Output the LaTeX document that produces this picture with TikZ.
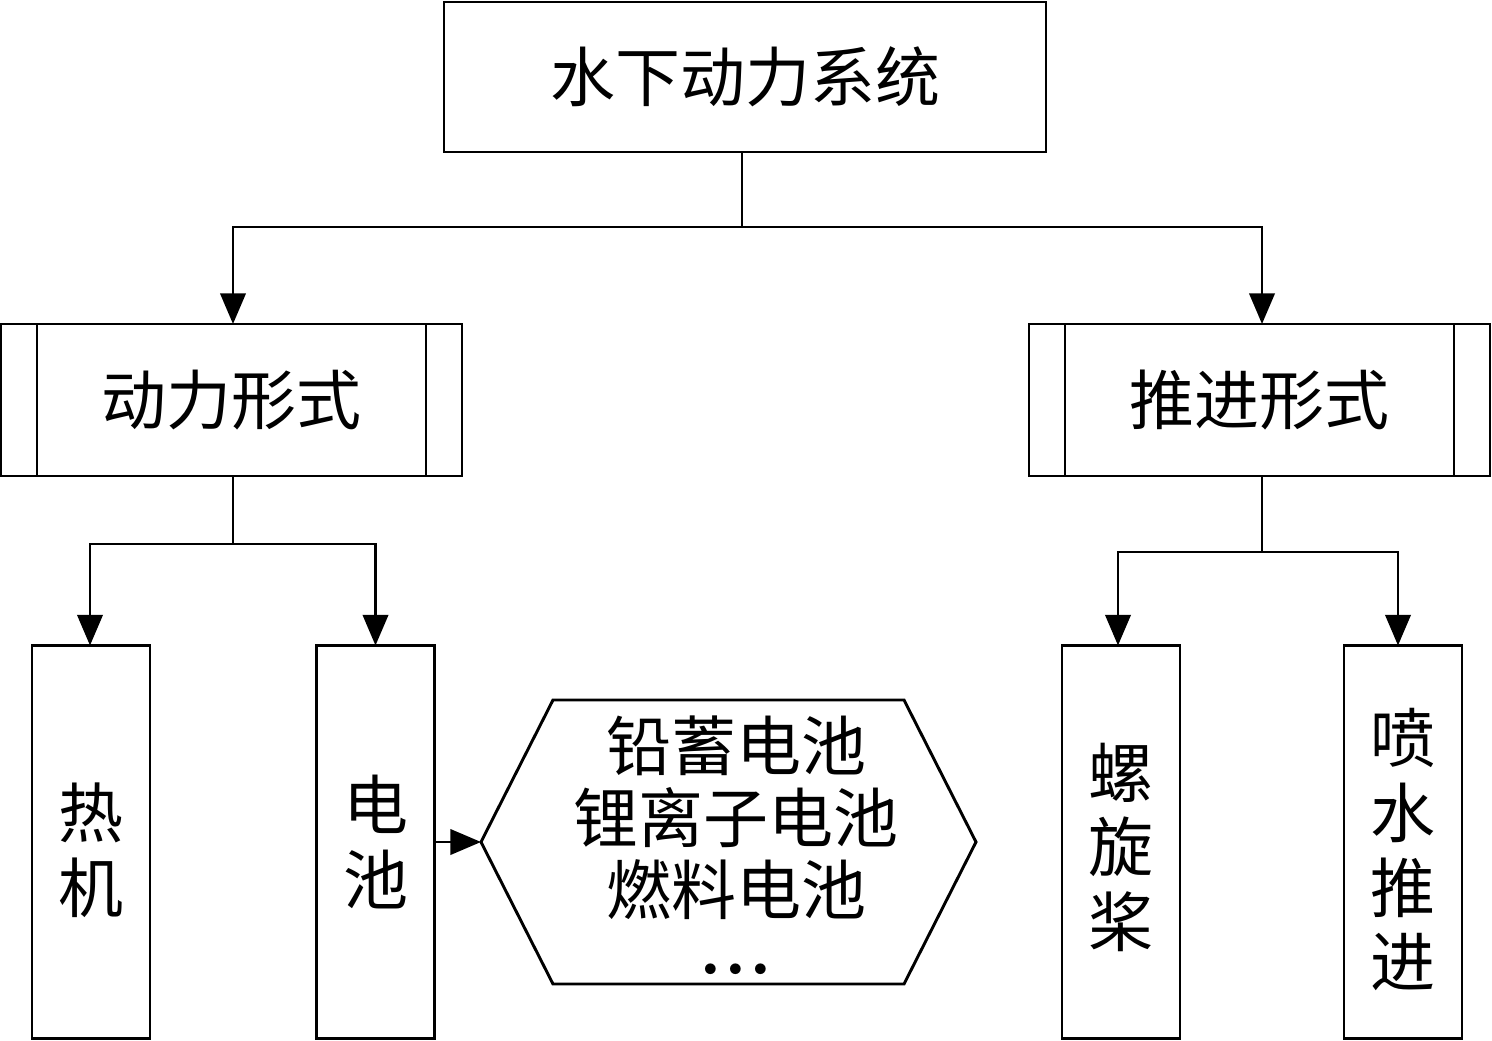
\documentclass[tikz,border=0pt]{standalone}
\usepackage{fontspec}
\setmainfont{Noto Sans CJK SC}
\usetikzlibrary{arrows.meta,calc}
\newcommand{\lowtext}[2]{\raisebox{-#1}[\height][\depth]{\parbox{1em}{\centering #2}}}
\newcommand{\hexdot}{\makebox[18.75pt]{•}}
\begin{document}
\begin{tikzpicture}[x=0.75pt,y=-0.75pt,
  every node/.style={inner sep=0pt,outer sep=0pt},
  lw/.style={line width=2.2pt},
  box/.style={draw,lw,font=\fontsize{48.75pt}{56pt}\selectfont,align=center},
  arr/.style={lw,-{Triangle[length=23pt,width=19pt]}},
  ln/.style={lw}
]
\useasboundingbox (0,0) rectangle (1492,1041);
% top
\node[box,minimum width=451.5pt,minimum height=112.5pt] (top) at (745,77) {水下动力系统};
% second level
\node[box,minimum width=345.75pt,minimum height=114pt] (pw) at (231.5,400) {动力形式};
\node[box,minimum width=345.75pt,minimum height=114pt] (pr) at (1259.5,400) {推进形式};
\foreach \n in {pw,pr}{
  \draw[ln] ([xshift=27pt]\n.north west) -- ([xshift=27pt]\n.south west);
  \draw[ln] ([xshift=-27pt]\n.north east) -- ([xshift=-27pt]\n.south east);
}
% third level
\node[box,minimum width=88.5pt,minimum height=294.75pt] (rj) at (91,842) {\lowtext{6pt}{热\\机}};
\node[box,minimum width=88.5pt,minimum height=294.75pt] (dc) at (375.5,842) {电\\池};
\node[box,minimum width=88.5pt,minimum height=294.75pt] (lx) at (1121,842) {\lowtext{4pt}{螺\\旋\\桨}};
\node[box,minimum width=88.5pt,minimum height=294.75pt] (ps) at (1403,842) {\lowtext{6pt}{喷\\水\\推\\进}};
% hexagon
\node[minimum width=371.25pt,minimum height=213pt] (hex) at (728.5,842) {};
\draw[ln] (hex.west) -- ([xshift=54pt]hex.north west) -- ([xshift=-54pt]hex.north east)
  -- (hex.east) -- ([xshift=-54pt]hex.south east) -- ([xshift=54pt]hex.south west) -- cycle;
\node[font=\fontsize{48.75pt}{54pt}\selectfont,align=center,anchor=north] (hext) at (736,716)
  {铅蓄电池\\锂离子电池\\燃料电池\\\smash{\raisebox{-1pt}{\fontsize{38pt}{38pt}\selectfont\hexdot\hexdot\hexdot}}};
% connectors
\coordinate (j1) at (742,227);
\coordinate (j2) at (233,544);
\coordinate (j3) at (1262,552);
\draw[ln] (top.south -| j1) -- (j1);
\draw[arr] (j1) -| (pw.north -| 233,0);
\draw[arr] (j1) -| (pr.north -| j3);
\draw[ln] (pw.south -| j2) -- (j2);
\draw[arr] (j2) -| (rj.north -| 90,0);
\draw[arr] (j2) -| (dc.north);
\draw[ln] (pr.south -| j3) -- (j3);
\draw[arr] (j3) -| (lx.north -| 1118,0);
\draw[arr] (j3) -| (ps.north -| 1398,0);
\draw[arr] (dc.east) -- (hex.west);
\end{tikzpicture}
\end{document}
